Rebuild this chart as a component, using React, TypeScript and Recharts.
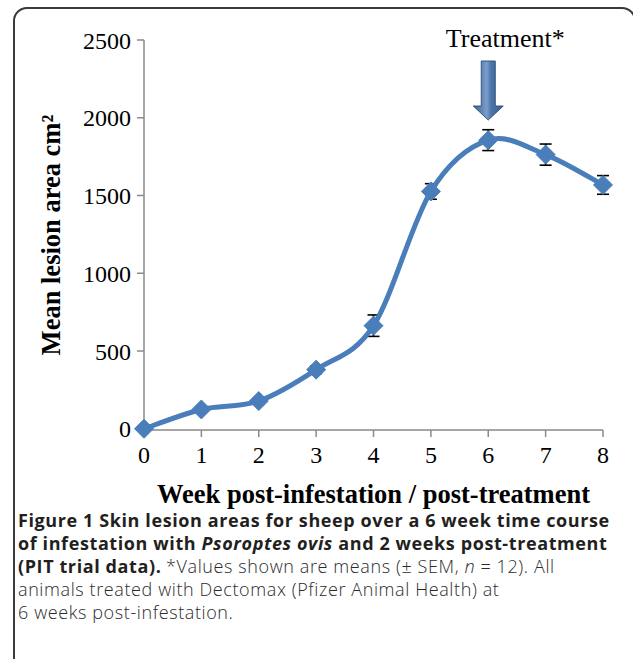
import { CartesianGrid, ErrorBar, Label, Line, LineChart, ReferenceDot, XAxis, YAxis } from 'recharts';

const weeks = [0, 1, 2, 3, 4, 5, 6, 7, 8];
const meanArea = [0, 124, 178, 380, 663, 1526, 1856, 1763, 1568];
const sem = [8, 15, 15, 25, 69, 50, 67, 68, 60];
const yTicks = [0, 500, 1000, 1500, 2000, 2500];

const data = weeks.map((week, i) => ({ week, area: meanArea[i], sem: sem[i] }));

const serif = '"Liberation Serif", "Times New Roman", serif';
const blue = '#4a7ebb';
const axisGrey = '#8a8a8a';

// Excel-like smoothed line (Catmull-Rom as cubic bezier)
function smoothCurve(context: any) {
  let pts: [number, number][] = [];
  return {
    areaStart() {},
    areaEnd() {},
    lineStart() {
      pts = [];
    },
    point(x: number, y: number) {
      pts.push([+x, +y]);
    },
    lineEnd() {
      if (!pts.length) return;
      context.moveTo(pts[0][0], pts[0][1]);
      for (let i = 0; i < pts.length - 1; i++) {
        const p0 = pts[i - 1] || pts[i];
        const p1 = pts[i];
        const p2 = pts[i + 1];
        const p3 = pts[i + 2] || p2;
        context.bezierCurveTo(
          p1[0] + (p2[0] - p0[0]) / 6,
          p1[1] + (p2[1] - p0[1]) / 6,
          p2[0] - (p3[0] - p1[0]) / 6,
          p2[1] - (p3[1] - p1[1]) / 6,
          p2[0],
          p2[1]
        );
      }
    },
  };
}

function Diamond(props: any) {
  const { cx, cy, index } = props;
  if (cx == null || cy == null) return <g key={index} />;
  const r = 9.5;
  return (
    <polygon
      key={index}
      points={`${cx},${cy - r} ${cx + r},${cy} ${cx},${cy + r} ${cx - r},${cy}`}
      fill={blue}
      stroke={blue}
      strokeWidth={1}
    />
  );
}

function TreatmentArrow(props: any) {
  const { cx, cy } = props;
  return (
    <g>
      <defs>
        <linearGradient id="arrowGrad" x1="0" x2="1" y1="0" y2="0">
          <stop offset="0%" stopColor="#3b5f8e" />
          <stop offset="45%" stopColor="#7a9dcb" />
          <stop offset="60%" stopColor="#4a74a8" />
          <stop offset="100%" stopColor="#3b5f8e" />
        </linearGradient>
      </defs>
      <text x={cx + 17} y={cy + 7} textAnchor="middle" fontFamily={serif} fontSize={26} fill="#000">
        Treatment*
      </text>
      <polygon
        points={`${cx - 7},${cy + 21} ${cx + 7},${cy + 21} ${cx + 7},${cy + 66} ${cx + 15},${cy + 66} ${cx},${cy + 80} ${cx - 15},${cy + 66} ${cx - 7},${cy + 66}`}
        fill="url(#arrowGrad)"
        stroke="#34557f"
        strokeWidth={1}
      />
    </g>
  );
}

export default function App() {
  const regular = { fontWeight: 300, letterSpacing: 0.6, color: '#2b2b2b' };
  return (
    <div style={{ position: 'absolute', left: 0, top: 0, width: 633, height: 659, overflow: 'hidden', background: '#fff' }}>
      <div
        style={{
          position: 'absolute',
          left: 13,
          top: 7,
          width: 623,
          height: 700,
          border: '2px solid #3a3a3a',
          borderRadius: 14,
          boxSizing: 'border-box',
        }}
      />
      <div style={{ position: 'absolute', left: 0, top: 0 }}>
        <LineChart width={633} height={520} data={data} margin={{ top: 40, right: 30, bottom: 0, left: 0 }}>
          <CartesianGrid stroke="none" />
          <XAxis
            dataKey="week"
            type="number"
            domain={[0, 8]}
            ticks={weeks}
            height={90}
            stroke={axisGrey}
            strokeWidth={1.5}
            tickSize={7}
            tickMargin={9}
            tick={{ fill: '#000', fontSize: 24, fontFamily: serif }}
          >
            <Label
              content={(p: any) => (
                <text
                  x={p.viewBox.x + p.viewBox.width / 2}
                  y={503}
                  textAnchor="middle"
                  fontFamily={serif}
                  fontWeight="bold"
                  fontSize={26.5}
                  fill="#000"
                >
                  Week post-infestation / post-treatment
                </text>
              )}
            />
          </XAxis>
          <YAxis
            type="number"
            domain={[0, 2500]}
            ticks={yTicks}
            width={144}
            stroke={axisGrey}
            strokeWidth={1.5}
            tickSize={7}
            tickMargin={6}
            tick={{ fill: '#000', fontSize: 24, fontFamily: serif }}
          >
            <Label
              content={(p: any) => {
                const cy = p.viewBox.y + p.viewBox.height / 2;
                return (
                  <text
                    x={60}
                    y={cy}
                    transform={`rotate(-90 60 ${cy})`}
                    textAnchor="middle"
                    fontFamily={serif}
                    fontWeight="bold"
                    fontSize={26.5}
                    fill="#000"
                  >
                    Mean lesion area cm²
                  </text>
                );
              }}
            />
          </YAxis>
          <Line
            dataKey="area"
            type={smoothCurve as any}
            stroke={blue}
            strokeWidth={5}
            dot={(p: any) => <Diamond {...p} key={p.index} />}
            activeDot={false}
            isAnimationActive={false}
          >
            <ErrorBar dataKey="sem" direction="y" width={6} stroke="#000" strokeWidth={1.6} isAnimationActive={false} />
          </Line>
          <ReferenceDot x={6} y={2500} shape={(p: any) => <TreatmentArrow {...p} />} />
        </LineChart>
      </div>
      <div
        style={{
          position: 'absolute',
          left: 18,
          top: 509,
          width: 615,
          fontFamily: '"Open Sans", sans-serif',
          fontSize: 18,
          lineHeight: '23px',
          color: '#231f20',
          whiteSpace: 'nowrap',
        }}
      >
        <div style={{ fontWeight: 700, letterSpacing: 0.6 }}>Figure 1 Skin lesion areas for sheep over a 6 week time course</div>
        <div style={{ fontWeight: 700, letterSpacing: 0.6 }}>
          of infestation with <i>Psoroptes ovis</i> and 2 weeks post-treatment
        </div>
        <div>
          <b style={{ letterSpacing: 0.6 }}>(PIT trial data).</b>{' '}
          <span style={regular}>
            *Values shown are means (± SEM, <i>n</i> = 12). All
          </span>
        </div>
        <div style={regular}>animals treated with Dectomax (Pfizer Animal Health) at</div>
        <div style={regular}>6 weeks post-infestation.</div>
      </div>
    </div>
  );
}
